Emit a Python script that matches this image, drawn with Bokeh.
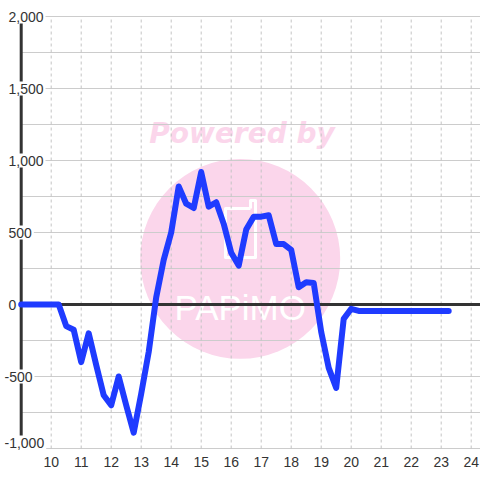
from bokeh.plotting import figure
from bokeh.models import FixedTicker
from bokeh.core.properties import value
from bokeh.embed import file_html
from bokeh.resources import INLINE

# ---- data ----
hours = [9.0, 9.25, 9.5, 9.75, 10.0, 10.25, 10.5, 10.75, 11.0, 11.25, 11.5, 11.75,
         12.0, 12.25, 12.5, 12.75, 13.0, 13.25, 13.5, 13.75, 14.0, 14.25, 14.5, 14.75,
         15.0, 15.25, 15.5, 15.75, 16.0, 16.25, 16.5, 16.75, 17.0, 17.25, 17.5, 17.75,
         18.0, 18.25, 18.5, 18.75, 19.0, 19.25, 19.5, 19.75, 20.0, 20.25, 20.5, 20.75,
         21.0, 21.25, 21.5, 21.75, 22.0, 22.25, 22.5, 22.75, 23.0, 23.25]
balance = [0, 0, 0, 0, 0, 0, -150, -175, -400, -200, -420, -630,
           -700, -500, -700, -890, -620, -330, 50, 310, 500, 820, 700, 670,
           920, 680, 710, 560, 360, 270, 520, 610, 610, 620, 420, 420,
           380, 120, 155, 150, -190, -440, -580, -100, -30, -45, -45, -45,
           -45, -45, -45, -45, -45, -45, -45, -45, -45, -45]

x_ticks = [10, 11, 12, 13, 14, 15, 16, 17, 18, 19, 20, 21, 22, 23, 24]
y_ticks = [-1000, -500, 0, 500, 1000, 1500, 2000]
y_tick_labels = ["-1,000", "-500", "0", "500", "1,000", "1,500", "2,000"]
grid_levels = [-1000, -750, -500, -250, 0, 250, 500, 750, 1000, 1250, 1500, 1750, 2000]
axis_x = 9.0

# ---- layout ----
W, H = 480, 480
PX_PER_X = 30.0
x_start = 10 - 50.7 / PX_PER_X
x_end = x_start + W / PX_PER_X
FRAME_H = 452
PX_PER_Y = 0.144
y_end = 2000 + 16 / PX_PER_Y
y_start = y_end - FRAME_H / PX_PER_Y

PINK = "#fbd6eb"
GRID = "#cccccc"
DARK = "#333333"
BLUE = "#1f3bff"
FONT = "Liberation Sans"

p = figure(width=W, height=H, x_range=(x_start, x_end), y_range=(y_start, y_end),
           output_backend="svg", toolbar_location=None, min_border=0)
p.min_border_bottom = H - FRAME_H
p.outline_line_color = None
p.background_fill_color = "white"
p.border_fill_color = "white"
p.xgrid.visible = False
p.ygrid.visible = False
p.yaxis.visible = False

xa = p.xaxis[0]
xa.ticker = FixedTicker(ticks=x_ticks)
xa.axis_line_color = None
xa.major_tick_line_color = None
xa.minor_tick_line_color = None
xa.major_tick_out = 0
xa.major_tick_in = 0
xa.major_label_standoff = 4
xa.major_label_text_font = FONT
xa.major_label_text_font_size = "14px"
xa.major_label_text_color = DARK

# ---- watermark (decoration) ----
p.scatter(x=[16.3], y=[317], size=200, marker="circle", fill_color=PINK, line_color=None)
p.text(x=[16.36], y=[1187], text=["Powered by"], text_font=value("DejaVu Sans"),
       text_font_style="bold italic", text_font_size="28px", text_color=PINK,
       text_align="center", text_baseline="alphabetic")
p.line(x=[16.643, 15.81, 15.81, 16.81, 16.81, 16.643, 16.643],
       y=[666.7, 666.7, 326.4, 326.4, 722.2, 722.2, 666.7],
       line_color="white", line_width=3, line_join="round")
p.text(x=[16.3], y=[-21], text=["PAPiMO"], text_font=value(FONT), text_font_size="35px",
       text_color="white", text_align="center", text_baseline="alphabetic")

# ---- grid ----
n = len(grid_levels)
p.segment(x0=[axis_x] * n, y0=grid_levels, x1=[x_end] * n, y1=grid_levels,
          line_color=GRID, line_width=1)
m = len(x_ticks)
p.segment(x0=x_ticks, y0=[grid_levels[0]] * m, x1=x_ticks, y1=[grid_levels[-1]] * m,
          line_color="#c4c4c4", line_width=1, line_dash="3 3")

# zero line and y axis line
p.segment(x0=[axis_x], y0=[0], x1=[x_end], y1=[0], line_color=DARK, line_width=3)
p.segment(x0=[axis_x], y0=[grid_levels[0]], x1=[axis_x], y1=[grid_levels[-1]],
          line_color=DARK, line_width=3)

# y tick labels (drawn over the axis line, as in the reference)
label_x = [x_start + (2 if v < 0 else 6) / PX_PER_X for v in y_ticks]
label_dy = [-6 if v == min(y_ticks) else 0 for v in y_ticks]
p.text(x=label_x, y=y_ticks, text=y_tick_labels, y_offset=label_dy, text_font=value(FONT),
       text_font_size="14px", text_color=DARK, text_align="left",
       text_baseline="middle", background_fill_color="white", padding=2)

# ---- series ----
p.line(hours, balance, line_width=6, line_color=BLUE, line_join="round", line_cap="round")

open("out.html", "w").write(file_html(p, INLINE))
